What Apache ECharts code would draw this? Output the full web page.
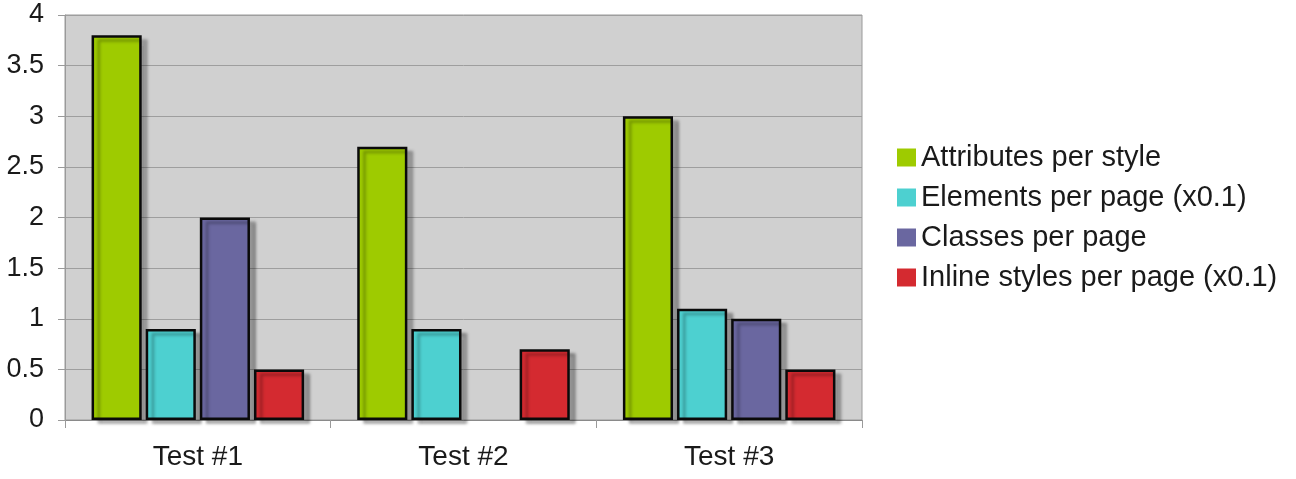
<!DOCTYPE html>
<html>
<head>
<meta charset="utf-8">
<script src="https://cdn.jsdelivr.net/npm/echarts@6/dist/echarts.min.js"></script>
<style>html,body{margin:0;padding:0;background:#fff;}#c{width:1296px;height:479px;}</style>
</head>
<body>
<div id="c"></div>
<script>
const categories = ['Test #1', 'Test #2', 'Test #3'];
const seriesNames = ['Attributes per style', 'Elements per page (x0.1)', 'Classes per page', 'Inline styles per page (x0.1)'];
const attributesPerStyle = [3.8, 2.7, 3.0];
const elementsPerPage = [0.9, 0.9, 1.1];
const classesPerPage = [2.0, null, 1.0];
const inlineStylesPerPage = [0.5, 0.7, 0.5];
const yTicks = [0, 0.5, 1, 1.5, 2, 2.5, 3, 3.5, 4];
const colors = ['#9ecb00', '#4dd0d0', '#6a67a0', '#d42a30'];

const values = [attributesPerStyle, elementsPerPage, classesPerPage, inlineStylesPerPage];
const font = "'Liberation Sans', Arial, Helvetica, sans-serif";

const chart = echarts.init(document.getElementById('c'));
chart.setOption({
  animation: false,
  legend: {
    orient: 'vertical',
    left: 897,
    top: 143,
    padding: 0,
    itemWidth: 19,
    itemHeight: 18,
    itemGap: 11,
    icon: 'rect',
    itemStyle: { borderWidth: 0, shadowBlur: 0, shadowOffsetX: 0, shadowOffsetY: 0, shadowColor: 'transparent' },
    textStyle: { fontFamily: font, fontSize: 29, color: '#1a1a1a' },
    data: seriesNames
  },
  grid: {
    left: 65, right: 434, top: 15, bottom: 59,
    show: true,
    backgroundColor: '#d0d0d0',
    borderColor: '#9a9a9a',
    borderWidth: 1
  },
  xAxis: {
    type: 'category',
    data: categories,
    axisLine: { lineStyle: { color: '#8a8a8a', width: 1 } },
    axisTick: { show: true, length: 8, lineStyle: { color: '#9a9a9a' } },
    axisLabel: { fontFamily: font, fontSize: 28, color: '#1a1a1a', margin: 23 }
  },
  yAxis: {
    type: 'value',
    min: 0, max: 4, interval: 0.5,
    axisLine: { show: true, lineStyle: { color: '#9a9a9a' } },
    axisTick: { show: true, length: 7, lineStyle: { color: '#9a9a9a' } },
    axisLabel: {
      fontFamily: font, fontSize: 27, color: '#1a1a1a', margin: 21,
      formatter: v => String(yTicks.find(t => Math.abs(t - v) < 1e-9) ?? v)
    },
    splitLine: { lineStyle: { color: '#9e9e9e', width: 1 } }
  },
  series: values.map((vals, i) => ({
    name: seriesNames[i],
    type: 'bar',
    data: vals.map(v => v === null ? '-' : v),
    barCategoryGap: '20%',
    barGap: '8%',
    itemStyle: {
      color: colors[i],
      borderColor: '#0a0a0a',
      borderWidth: 2.5,
      shadowColor: 'rgba(0,0,0,0.28)',
      shadowOffsetX: 6,
      shadowOffsetY: 4,
      shadowBlur: 3
    }
  })),
  color: colors
});
</script>
</body>
</html>
